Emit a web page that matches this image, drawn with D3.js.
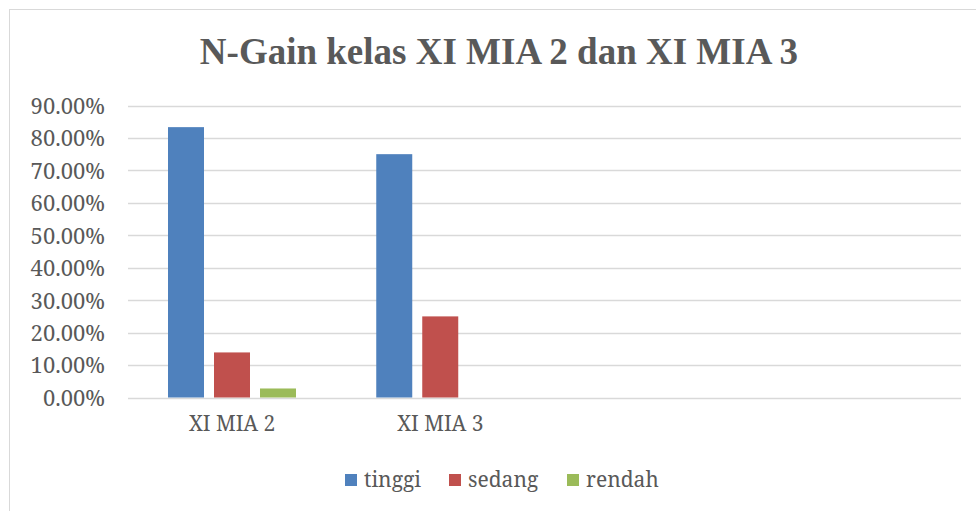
<!DOCTYPE html>
<html>
<head>
<meta charset="utf-8">
<title>N-Gain</title>
<script src="https://cdn.jsdelivr.net/npm/d3@7/dist/d3.min.js"></script>
<style>
  body { margin: 0; background: #fff; }
  svg { display: block; }
</style>
</head>
<body>
<svg id="chart"></svg>
<script>
    // data
    const categories = ["XI MIA 2", "XI MIA 3", "", " "];
    const seriesNames = ["tinggi", "sedang", "rendah"];
    const tinggi = [0.8333, 0.75, null, null];
    const sedang = [0.1389, 0.25, null, null];
    const rendah = [0.0278, 0, null, null];
    const yTicks = [0, 0.1, 0.2, 0.3, 0.4, 0.5, 0.6, 0.7, 0.8, 0.9];
    const colors = ["#4f81bd", "#c0504d", "#9bbb59"];

    const W = 976, H = 511;
    const labelFont = "'Noto Serif', 'Liberation Serif', serif";
    const svg = d3.select("#chart").attr("width", W).attr("height", H);

    // outer chart frame
    svg.append("rect")
        .attr("x", 9.5).attr("y", 9.5)
        .attr("width", 1000).attr("height", 600)
        .attr("fill", "#fff")
        .attr("stroke", "#d9d9d9");

    svg.append("text")
        .attr("x", 499).attr("y", 64)
        .attr("text-anchor", "middle")
        .style("font-family", "'Liberation Serif', 'Times New Roman', serif")
        .style("font-weight", "bold")
        .style("font-size", "37px")
        .attr("fill", "#595959")
        .text("N-Gain kelas XI MIA 2 dan XI MIA 3");

    const plotL = 128, plotR = 961, plotT = 105.5, plotB = 397.5;

    const x0 = d3.scaleBand().domain(categories).range([plotL, plotR]).paddingInner(0).paddingOuter(0);
    const x1 = d3.scaleBand().domain(seriesNames).range([40, 168]).paddingInner(10 / 46).paddingOuter(0);
    const y = d3.scaleLinear().domain([0, 0.9]).range([plotB, plotT]);

    // gridlines
    svg.append("g")
        .selectAll("line")
        .data(yTicks)
        .join("line")
        .attr("x1", plotL).attr("x2", plotR)
        .attr("y1", d => Math.round(y(d)) + 0.5)
        .attr("y2", d => Math.round(y(d)) + 0.5)
        .attr("stroke", "#d9d9d9")
        .attr("stroke-width", 1.5);

    // y axis labels
    const yAxis = d3.axisLeft(y).tickValues(yTicks).tickSize(0).tickPadding(0)
        .tickFormat(d => (d * 100).toFixed(2) + "%");
    const ya = svg.append("g").attr("transform", `translate(${plotL - 23},0)`).call(yAxis);
    ya.select(".domain").remove();
    ya.selectAll("text")
        .attr("dy", "0.36em")
        .style("font-family", labelFont)
        .style("font-size", "22px")
        .attr("fill", "#595959");

    // x axis labels
    const xAxis = d3.axisBottom(x0).tickSize(0).tickPadding(0);
    const xa = svg.append("g").attr("transform", `translate(0,${plotB + 19})`).call(xAxis);
    xa.select(".domain").remove();
    xa.selectAll("text")
        .attr("dy", "0.71em")
        .style("font-family", labelFont)
        .style("font-size", "21px")
        .attr("fill", "#595959");

    // bars
    const series = [tinggi, sedang, rendah];
    const rows = [];
    categories.forEach((c, i) => {
        seriesNames.forEach((s, j) => {
            if (series[j][i] != null) rows.push({ cat: c, name: s, value: series[j][i], color: colors[j] });
        });
    });

    svg.append("g")
        .selectAll("rect")
        .data(rows)
        .join("rect")
        .attr("x", d => x0(d.cat) + x1(d.name))
        .attr("width", x1.bandwidth())
        .attr("y", d => y(d.value))
        .attr("height", d => plotB - y(d.value))
        .attr("fill", d => d.color);

    // legend
    const legendX = [345, 449, 567];
    const lg = svg.append("g").selectAll("g").data(seriesNames).join("g")
        .attr("transform", (d, i) => `translate(${legendX[i]},474)`);
    lg.append("rect").attr("width", 12).attr("height", 12).attr("fill", (d, i) => colors[i]);
    lg.append("text")
        .attr("x", 19).attr("y", 13)
        .style("font-family", labelFont)
        .style("font-size", "21px")
        .attr("fill", "#595959")
        .text(d => d);
</script>
</body>
</html>
